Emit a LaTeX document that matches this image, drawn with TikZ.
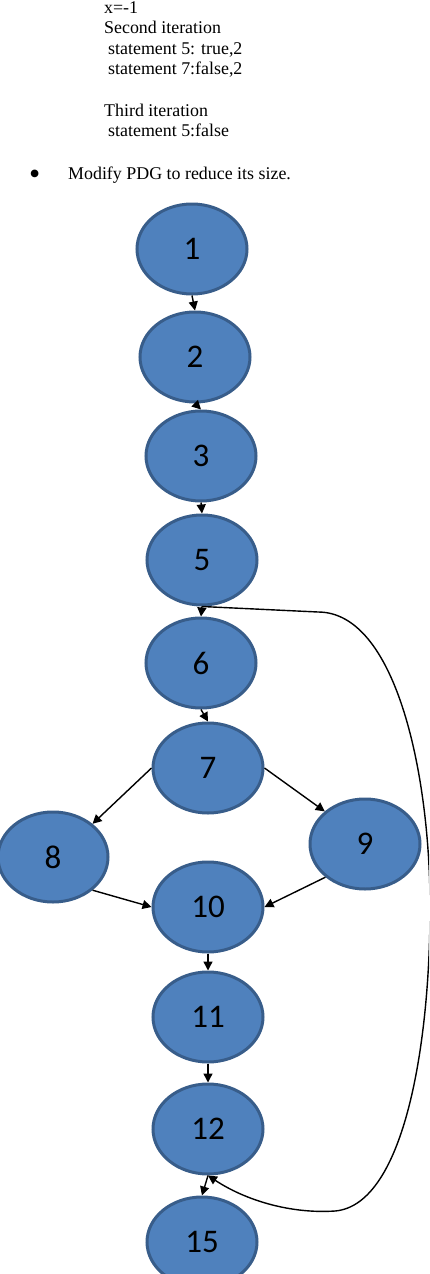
\documentclass[tikz,border=0pt]{standalone}
\usepackage{fontspec}
\setmainfont{Liberation Serif}
\newfontfamily\labelfont{Carlito}
\usepackage{xcolor}
\usepackage{tikz}
\usetikzlibrary{
    arrows.meta,
    positioning,
    shapes.geometric
}
\definecolor{nodefill}{HTML}{4F81BD}
\definecolor{nodeedge}{HTML}{385D8A}
\tikzset{
    stmt/.style={
        ellipse,
        draw=nodeedge,
        line width=3pt,
        fill=nodefill,
        minimum width=110pt,
        minimum height=90pt,
        inner sep=0pt,
        font=\labelfont\fontsize{33}{38}\selectfont
    }
}
\tikzset{
    flow/.style={
        draw=black,
        line width=1.4pt,
        -{Triangle[length=9pt,width=9pt]}
    }
}
\tikzset{
    backedge/.style={
        draw=black,
        line width=1.4pt,
        -{Triangle[length=9pt,width=9pt]}
    }
}
\tikzset{
    notetext/.style={
        anchor=base west,
        inner sep=0pt,
        font=\fontsize{17.9}{20}\selectfont
    }
}

\begin{document}
\begin{tikzpicture}[
    x=1pt,
    y=-1pt
]
\useasboundingbox (0,0) rectangle (429,1274);
\clip (0,0) rectangle (429,1274);

% notes above the graph
\node[notetext] (l1) at (104,13) {x=-1};
\node[notetext] (l2) at (104,33) {Second iteration};
\node[notetext] (l3) at (108,54) {statement 5: true,2};
\node[notetext] (l4) at (108,74) {statement 7:false,2};
\node[notetext] (l5) at (104,116) {Third iteration};
\node[notetext] (l6) at (108,136) {statement 5:false};
\node[notetext, font=\fontsize{32}{34}\selectfont] (dot) at (29,184) {•};
\node[notetext] (l7) at (68,179) {Modify PDG to reduce its size.};

% statement nodes
\node[stmt] (n1) at (192,249) {1};
\node[stmt, below=15pt of n1, xshift=3pt] (n2) {2};
\node[stmt, below=6pt of n2, xshift=6pt] (n3) {3};
\node[stmt, below=11pt of n3, xshift=1pt] (n5) {5};
\node[stmt, below=10pt of n5, xshift=-1pt] (n6) {6};
\node[stmt, below=12pt of n6, xshift=7pt] (n7) {7};
\node[stmt, left=42pt of n7, yshift=-89pt] (n8) {8};
\node[stmt, right=44pt of n7, yshift=-76pt] (n9) {9};
\node[stmt, below=46pt of n7] (n10) {10};
\node[stmt, below=17pt of n10] (n11) {11};
\node[stmt, below=19pt of n11] (n12) {12};
\node[stmt, below=20pt of n12, xshift=-6pt] (n15) {15};

\draw[flow] (n1.south) -- (n2.north);
\draw[flow] (n2.south) -- (n3.north);
\draw[flow] (n3.south) -- (n5.north);
\draw[flow] (n5.south) -- (n6.north);
\draw[flow] (n6.south) -- (n7.north);
\draw[flow] (n7.west) -- (n8.40);
\draw[flow] (n7.east) -- (n9.141);
\draw[flow] (n8.-40) -- (n10.west);
\draw[flow] (n9.220) -- (n10.east);
\draw[flow] (n10.south) -- (n11.north);
\draw[flow] (n11.south) -- (n12.north);
\draw[flow] (n12.south) -- (n15.north);

% loop back from 5 to 12
\draw[backedge]
    (n5.south) -- (318,612)
    .. controls (395,612) and (429,770) .. (430,900)
    .. controls (431,1040) and (405,1205) .. (335,1211)
    .. controls (290,1214) and (245,1200) .. (n12.south);

\end{tikzpicture}
\end{document}
